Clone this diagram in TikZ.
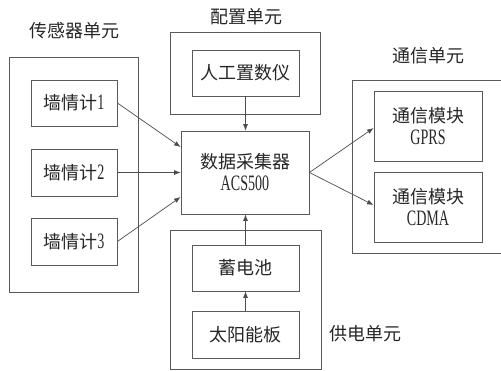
\documentclass[tikz,border=0pt]{standalone}
\usepackage{fontspec}
\setmainfont{Liberation Serif}
\newfontfamily\cjk{Noto Sans CJK SC}
\newfontfamily\cond[FakeStretch=0.64]{Liberation Serif}
\usetikzlibrary{arrows.meta}
\newcommand{\zh}[1]{{\cjk\fontsize{18}{22}\selectfont #1}}
\newcommand{\lt}[1]{{\cond\fontsize{22}{22}\selectfont #1}}
\begin{document}
\begin{tikzpicture}[x=1pt,y=-1pt,
  line width=0.8pt,
  box/.style={draw=black!65, rectangle, inner sep=0pt, align=center, text=black!85,
    font=\fontsize{18}{22}\selectfont},
  unitlbl/.style={inner sep=0pt, text=black!85},
  arr/.style={draw=black!70, line width=0.7pt, -{Latex[length=6.5pt,width=5pt]}}]
\useasboundingbox (0,0) rectangle (501,370);
% outer unit boxes
\node[box, minimum width=129pt, minimum height=235pt] (sens) at (73.5,174.5) {};
\node[box, minimum width=150pt, minimum height=82pt] (cfg) at (245,73) {};
\node[box, minimum width=151pt, minimum height=139pt] (pwr) at (245.5,299.5) {};
\draw[draw=black!65] (503,80) -- (352,80) -- (352,253) -- (503,253);
% unit labels
\node[unitlbl] (lsens) at (75,31) {\zh{传感器单元}};
\node[unitlbl] (lcfg) at (246,17) {\zh{配置单元}};
\node[unitlbl] (lcomm) at (428,56) {\zh{通信单元}};
\node[unitlbl] (lpwr) at (365,334) {\zh{供电单元}};
% inner boxes
\node[box, minimum width=86pt, minimum height=46pt] (w1) at (74,103) {\zh{墙情计}\lt{1}};
\node[box, minimum width=86pt, minimum height=47pt] (w2) at (74,172.5) {\zh{墙情计}\lt{2}};
\node[box, minimum width=86pt, minimum height=47pt] (w3) at (74,241.5) {\zh{墙情计}\lt{3}};
\node[box, minimum width=107pt, minimum height=46pt] (man) at (245.5,73) {\zh{人工置数仪}};
\node[box, minimum width=128pt, minimum height=83pt] (coll) at (245,172.5) {\zh{数据采集器}\\\lt{ACS500}};
\node[box, minimum width=108pt, minimum height=70pt] (gprs) at (428,126) {\zh{通信模块}\\\lt{GPRS}};
\node[box, minimum width=108pt, minimum height=70pt] (cdma) at (428,207) {\zh{通信模块}\\\lt{CDMA}};
\node[box, minimum width=107pt, minimum height=46pt] (bat) at (245.5,268) {\zh{蓄电池}};
\node[box, minimum width=107pt, minimum height=47pt] (sol) at (245.5,334.5) {\zh{太阳能板}};
% connectors
\draw[arr] (w1.east) -- (coll.west |- 0,147);
\draw[arr] (w2.east) -- (coll.west |- w2.east);
\draw[arr] (w3.east) -- (coll.west |- 0,197);
\draw[arr] (man.south) -- (man.south |- coll.north);
\draw[arr] (bat.north) -- (bat.north |- coll.south);
\draw[arr] (sol.north) -- (bat.south);
\draw[arr] (coll.east) -- (gprs.west |- 0,128);
\draw[arr] (coll.east) -- (cdma.west |- 0,205);
\end{tikzpicture}
\end{document}
